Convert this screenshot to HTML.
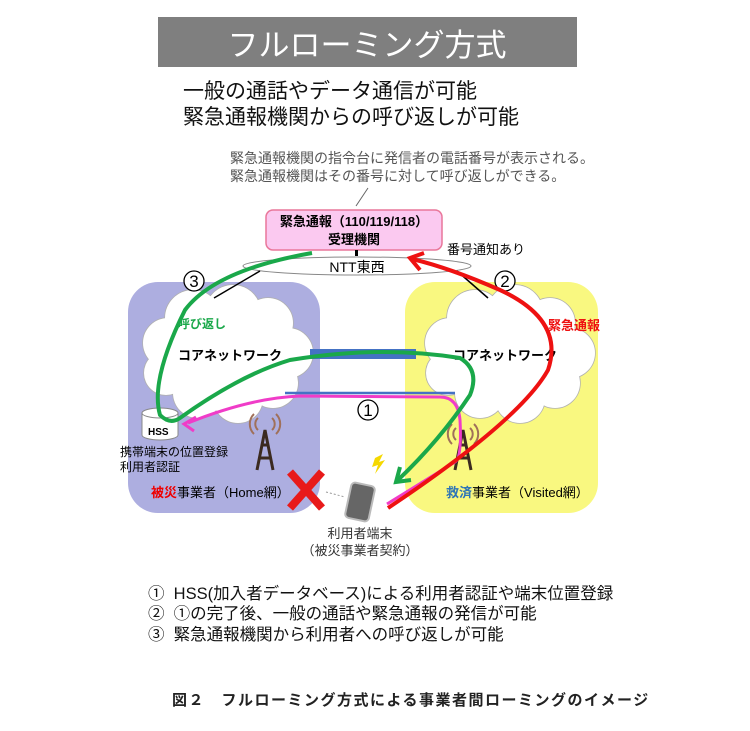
<!DOCTYPE html>
<html><head><meta charset="utf-8"><style>
body{margin:0;background:#fff;}
svg{display:block;font-family:"Liberation Sans","Noto Sans CJK JP",sans-serif;}
</style></head><body>
<svg width="750" height="731" viewBox="0 0 750 731">
<defs>
<g id="cloud">
<circle cx="30" cy="55" r="25"/><circle cx="55" cy="30" r="28"/><circle cx="95" cy="25" r="28"/><circle cx="130" cy="35" r="25"/><circle cx="150" cy="65" r="25"/><circle cx="135" cy="95" r="25"/><circle cx="100" cy="110" r="25"/><circle cx="60" cy="105" r="25"/><circle cx="28" cy="85" r="22"/><rect x="30" y="30" width="110" height="75"/>
</g>
</defs>
<rect x="158" y="17" width="419" height="50" fill="#7f7f7f"/>
<text x="367" y="56" font-size="31" fill="#fff" text-anchor="middle">フルローミング方式</text>
<text x="183" y="98" font-size="21" fill="#111">一般の通話やデータ通信が可能</text>
<text x="183" y="124" font-size="21" fill="#111">緊急通報機関からの呼び返しが可能</text>
<text x="230" y="163" font-size="14" fill="#555">緊急通報機関の指令台に発信者の電話番号が表示される。</text>
<text x="230" y="181" font-size="14" fill="#555">緊急通報機関はその番号に対して呼び返しができる。</text>
<line x1="368" y1="188" x2="356" y2="206" stroke="#666"/>

<rect x="128" y="282" width="192" height="231" rx="30" fill="#adaee0"/>
<rect x="405" y="282" width="193" height="231" rx="30" fill="#f9f880"/>

<g fill="#fff" stroke="#b0b0b0" stroke-width="1.5"><use href="#cloud" transform="translate(138,288)"/></g>
<g fill="#fff"><use href="#cloud" transform="translate(138,288)"/></g>
<g fill="#fff" stroke="#b0b0b0" stroke-width="1.5"><use href="#cloud" transform="translate(420,288)"/></g>
<g fill="#fff"><use href="#cloud" transform="translate(420,288)"/></g>

<rect x="310" y="349" width="106" height="10" fill="#4472c4"/>
<line x1="285" y1="393" x2="455" y2="393" stroke="#4472c4" stroke-width="2.5"/>

<text x="230" y="360" font-size="13" font-weight="bold" text-anchor="middle">コアネットワーク</text>
<text x="505" y="360" font-size="13" font-weight="bold" text-anchor="middle">コアネットワーク</text>

<ellipse cx="357" cy="266" rx="114" ry="9" fill="#fff" stroke="#888"/>
<text x="357" y="272" font-size="14" text-anchor="middle">NTT東西</text>
<line x1="260" y1="271" x2="214" y2="298" stroke="#000" stroke-width="1.5"/>
<line x1="457" y1="271" x2="488" y2="298" stroke="#000" stroke-width="1.5"/>
<rect x="266" y="210" width="176" height="40" rx="7" fill="#fbc9f0" stroke="#e9779a" stroke-width="1.5"/>
<rect x="355" y="250" width="3" height="6" fill="#000"/>
<text x="354" y="226" font-size="13" font-weight="bold" text-anchor="middle">緊急通報（110/119/118）</text>
<text x="354" y="244" font-size="13" font-weight="bold" text-anchor="middle">受理機関</text>
<text x="447" y="254" font-size="13">番号通知あり</text>

<g font-size="17" text-anchor="middle"><circle cx="194" cy="281" r="10" fill="#fff" stroke="#000" stroke-width="1.3"/><text x="194" y="287">3</text>
<circle cx="505" cy="281" r="10" fill="#fff" stroke="#000" stroke-width="1.3"/><text x="505" y="287">2</text>
<circle cx="368" cy="410" r="10" fill="#fff" stroke="#000" stroke-width="1.3"/><text x="368" y="416">1</text></g>

<path d="M142 413 v22 a18 5 0 0 0 36 0 v-22" fill="#fff" stroke="#888"/>
<ellipse cx="160" cy="413" rx="18" ry="5" fill="#fff" stroke="#888"/>
<text x="148" y="435" font-size="10" font-weight="bold">HSS</text>
<text x="120" y="456" font-size="12">携帯端末の位置登録</text>
<text x="120" y="471" font-size="12">利用者認証</text>

<g stroke="#3b2a20" stroke-width="3" fill="none">
<path d="M257 470 L265 430 L273 470 M259 458 H271 M261 445 H269"/>
<path d="M455 470 L463 430 L471 470 M457 458 H469 M459 445 H467"/>
</g>
<g stroke="#a0705a" stroke-width="2" fill="none">
<path d="M258 430 a8 8 0 0 1 0 -12 M272 430 a8 8 0 0 0 0 -12 M254 434 a14 14 0 0 1 0 -20 M276 434 a14 14 0 0 0 0 -20"/>
<path d="M456 440 a8 8 0 0 1 0 -12 M470 440 a8 8 0 0 0 0 -12 M452 444 a14 14 0 0 1 0 -20 M474 444 a14 14 0 0 0 0 -20"/>
</g>

<text x="151" y="497" font-size="13"><tspan fill="#e00" font-weight="bold">被災</tspan>事業者（Home網）</text>
<text x="446" y="497" font-size="13"><tspan fill="#2e75b6" font-weight="bold">救済</tspan>事業者（Visited網）</text>

<g stroke="#e81a1a" stroke-width="8"><line x1="290" y1="472" x2="322" y2="508"/><line x1="322" y1="472" x2="290" y2="508"/></g>
<line x1="326" y1="492" x2="345" y2="497" stroke="#999" stroke-dasharray="2 2"/>
<rect x="348" y="484" width="24" height="36" rx="4" transform="rotate(12 360 502)" fill="#666" stroke="#bbb" stroke-width="2"/>
<path d="M375 458 l8 -4 -4 8 6 -2 -10 14 3 -9 -6 2z" fill="#f5d800"/>
<text x="360" y="538" font-size="13" fill="#333" text-anchor="middle">利用者端末</text>
<text x="360" y="555" font-size="13" fill="#333" text-anchor="middle">（被災事業者契約）</text>

<path d="M387 504 L455 462 Q462 458 460 420 Q458 397 440 397 L300 396 Q250 398 188 423" fill="none" stroke="#f03cc8" stroke-width="3"/>
<path d="M196 417 L184 424 L194 431" fill="none" stroke="#f03cc8" stroke-width="3"/>
<path d="M388 508 Q520 420 548 370 Q565 320 500 290 Q450 268 412 259" fill="none" stroke="#ee1111" stroke-width="4"/>
<path d="M424 253 L410 258 L420 270" fill="none" stroke="#ee1111" stroke-width="4"/>
<text x="548" y="330" font-size="13" font-weight="bold" fill="#ee1111">緊急通報</text>
<path d="M312 253 Q215 270 185 310 Q150 380 160 415 Q170 425 180 418 Q240 375 290 360 Q380 345 460 358 Q480 370 470 395 Q440 440 398 480" fill="none" stroke="#1aa84a" stroke-width="4"/>
<path d="M400 467 L396 482 L411 480" fill="none" stroke="#1aa84a" stroke-width="4"/>
<text x="178" y="328" font-size="12" font-weight="bold" fill="#1aa84a">呼び返し</text>

<g font-size="16.5" fill="#111">
<text x="148" y="599">①&#160; HSS(加入者データベース)による利用者認証や端末位置登録</text>
<text x="148" y="619">②&#160; ①の完了後、一般の通話や緊急通報の発信が可能</text>
<text x="148" y="640">③&#160; 緊急通報機関から利用者への呼び返しが可能</text>
</g>
<text x="172" y="705" font-size="15" font-weight="bold" letter-spacing="1.5" fill="#222">図２　フルローミング方式による事業者間ローミングのイメージ</text>
</svg>
</body></html>
